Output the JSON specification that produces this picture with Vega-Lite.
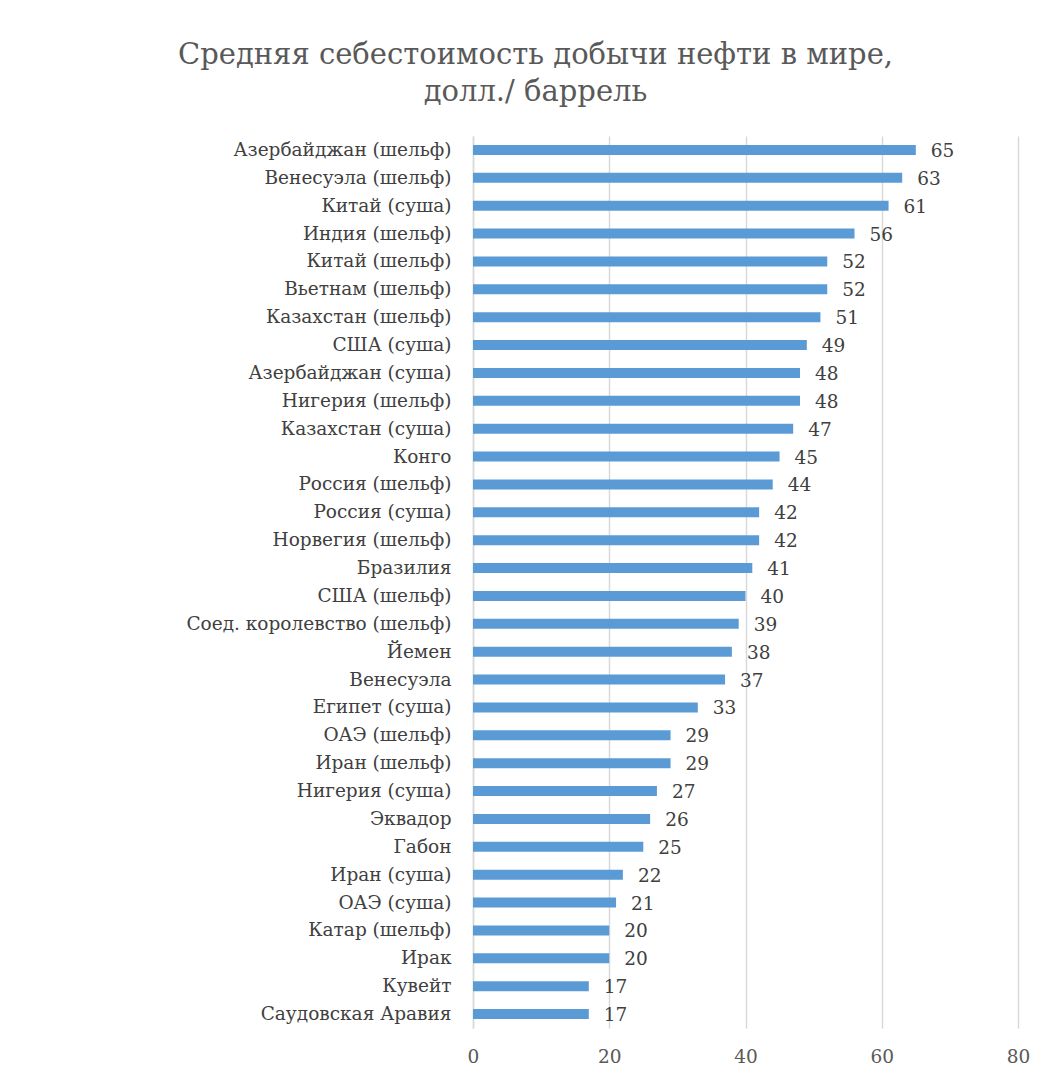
{
  "$schema": "https://vega.github.io/schema/vega-lite/v6.json",
  "autosize": "none",
  "width": 545,
  "height": 892,
  "padding": {"left": 473, "top": 136, "right": 32, "bottom": 47},
  "background": "white",
  "title": {
    "text": ["Средняя себестоимость  добычи нефти в мире,", "долл./ баррель"],
    "font": "DejaVu Serif",
    "fontSize": 29,
    "fontWeight": "normal",
    "color": "#595959",
    "lineHeight": 37,
    "anchor": "middle",
    "dx": -210,
    "offset": 29
  },
  "data": {
    "values": [
      {"country": "Азербайджан (шельф)", "cost": 65},
      {"country": "Венесуэла (шельф)", "cost": 63},
      {"country": "Китай (суша)", "cost": 61},
      {"country": "Индия (шельф)", "cost": 56},
      {"country": "Китай (шельф)", "cost": 52},
      {"country": "Вьетнам (шельф)", "cost": 52},
      {"country": "Казахстан (шельф)", "cost": 51},
      {"country": "США  (суша)", "cost": 49},
      {"country": "Азербайджан (суша)", "cost": 48},
      {"country": "Нигерия (шельф)", "cost": 48},
      {"country": "Казахстан (суша)", "cost": 47},
      {"country": "Конго", "cost": 45},
      {"country": "Россия (шельф)", "cost": 44},
      {"country": "Россия (суша)", "cost": 42},
      {"country": "Норвегия (шельф)", "cost": 42},
      {"country": "Бразилия", "cost": 41},
      {"country": "США  (шельф)", "cost": 40},
      {"country": "Соед. королевство (шельф)", "cost": 39},
      {"country": "Йемен", "cost": 38},
      {"country": "Венесуэла", "cost": 37},
      {"country": "Египет (суша)", "cost": 33},
      {"country": "ОАЭ (шельф)", "cost": 29},
      {"country": "Иран (шельф)", "cost": 29},
      {"country": "Нигерия (суша)", "cost": 27},
      {"country": "Эквадор", "cost": 26},
      {"country": "Габон", "cost": 25},
      {"country": "Иран (суша)", "cost": 22},
      {"country": "ОАЭ (суша)", "cost": 21},
      {"country": "Катар (шельф)", "cost": 20},
      {"country": "Ирак", "cost": 20},
      {"country": "Кувейт", "cost": 17},
      {"country": "Саудовская Аравия", "cost": 17}
    ]
  },
  "encoding": {
    "y": {
      "field": "country",
      "type": "nominal",
      "sort": null,
      "scale": {"paddingInner": 0.64, "paddingOuter": 0.32},
      "axis": {
        "title": null,
        "ticks": false,
        "domain": true,
        "domainColor": "#D9D9D9",
        "domainWidth": 1.5,
        "labelFont": "DejaVu Serif",
        "labelFontSize": 18.5,
        "labelColor": "#404040",
        "labelPadding": 22,
        "labelLimit": 400
      }
    },
    "x": {
      "field": "cost",
      "type": "quantitative",
      "scale": {"domain": [0, 80], "nice": false},
      "axis": {
        "title": null,
        "values": [0, 20, 40, 60, 80],
        "domain": false,
        "ticks": false,
        "grid": true,
        "gridColor": "#D9D9D9",
        "gridWidth": 1.5,
        "labelFlush": false,
        "labelFont": "DejaVu Serif",
        "labelFontSize": 18.5,
        "labelColor": "#595959",
        "labelPadding": 19
      }
    }
  },
  "layer": [
    {"mark": {"type": "bar", "color": "#5B9BD5"}},
    {
      "mark": {
        "type": "text",
        "align": "left",
        "baseline": "middle",
        "dx": 15,
        "dy": 1,
        "font": "DejaVu Serif",
        "fontSize": 18.5,
        "color": "#404040"
      },
      "encoding": {"text": {"field": "cost", "type": "quantitative"}}
    }
  ],
  "config": {"view": {"stroke": null}}
}
